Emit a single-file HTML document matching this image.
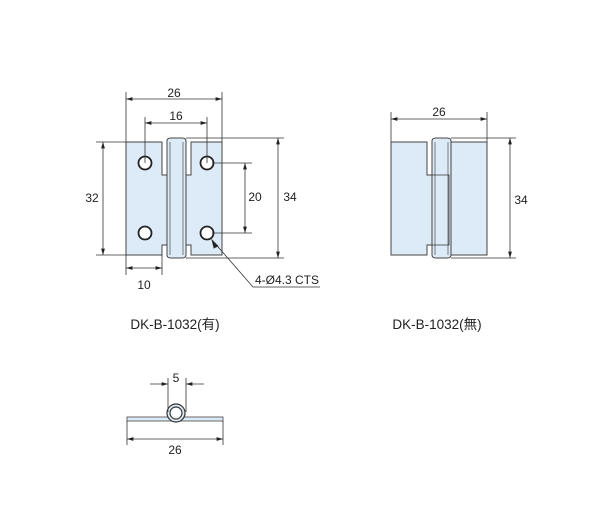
<!DOCTYPE html>
<html><head><meta charset="utf-8"><style>
body{margin:0;background:#fff}
svg{display:block}
text{font-family:"Liberation Sans","Noto Sans CJK JP",sans-serif;fill:#222}
</style></head><body>
<svg width="600" height="517" viewBox="0 0 600 517">
<defs>
<marker id="e" viewBox="0 0 10 6" refX="10" refY="3" markerWidth="8" markerHeight="5" orient="auto"><path d="M0,0L10,3L0,6z" fill="#222"/></marker>
<marker id="s" viewBox="0 0 10 6" refX="0" refY="3" markerWidth="8" markerHeight="5" orient="auto"><path d="M10,0L0,3L10,6z" fill="#222"/></marker>
</defs>
<g stroke="#333" stroke-width="0.8" fill="none">
<!-- left hinge -->
<path d="M126,142H162V175H167V245H162V255H126Z" fill="#dcebf7" stroke="#444" stroke-width="1"/>
<path d="M191,142H222V255H191V245H186V175H191Z" fill="#dcebf7" stroke="#444" stroke-width="1"/>
<path d="M167,175H186V245H167Z" fill="#dcebf7" stroke="none"/>
<path d="M167,141Q167,138 171,138H182Q186,138 186,141V255Q186,258 182,258H171Q167,258 167,255Z" fill="#dcebf7" stroke="#444" stroke-width="1"/>
<path d="M170,142V255M183,142V255" stroke-width="0.6"/>
<g stroke="#222" stroke-width="1.8" fill="#fff">
<circle cx="145" cy="163" r="6.5"/><circle cx="145" cy="233" r="6.5"/>
<circle cx="207" cy="163" r="6.5"/><circle cx="207" cy="233" r="6.5"/>
</g>
<!-- dims left -->
<path d="M126,142V92M222,142V92M145,163V117M207,163V117M126,255V275M162,255V275"/>
<g marker-start="url(#s)" marker-end="url(#e)">
<path d="M126,99H222"/><path d="M145,123H207"/><path d="M126,268H162"/>
<path d="M103,142V255"/><path d="M245,163V233"/><path d="M278,138V258"/>
<path d="M391,119H487"/><path d="M510,138V258"/>
<path d="M127,439H223"/>
</g>
<path d="M96,142H126M96,255H126M212,163H252M212,233H252M186,138H284M186,258H284"/>
<path d="M212,240L253,287H320"/>
<path d="M218,246L212,240L214,248z" fill="#222"/>
<!-- right hinge -->
<path d="M391,142H427V175H432V245H427V255H391Z" fill="#dcebf7" stroke="#444" stroke-width="1"/>
<path d="M451,142H487V255H451Z" fill="#dcebf7" stroke="#444" stroke-width="1"/>
<path d="M432,141Q432,138 436,138H447Q451,138 451,141V255Q451,258 447,258H436Q432,258 432,255Z" fill="#dcebf7" stroke="#444" stroke-width="1"/>
<path d="M432,175H449V245H432" stroke-width="0.8"/>
<path d="M435,142V255M448,142V255" stroke-width="0.6"/>
<path d="M391,142V112M487,142V112M451,138H516M451,258H516"/>
<!-- bottom view -->
<rect x="127" y="417" width="96" height="4" fill="#dcebf7" stroke="#444"/>
<circle cx="176" cy="413" r="9" fill="#dcebf7" stroke="#333" stroke-width="1.2"/>
<circle cx="176" cy="413" r="6" fill="#fff" stroke="#333" stroke-width="1.2"/>
<path d="M168,378V412M186,378V412M127,421V445M223,421V445"/>
<path d="M150,384H168" marker-end="url(#e)"/>
<path d="M204,384H186" marker-end="url(#e)"/>
</g>
<g font-size="12" text-anchor="middle">
<text x="174" y="97">26</text>
<text x="176" y="120">16</text>
<text x="92" y="202">32</text>
<text x="255" y="201">20</text>
<text x="290" y="201">34</text>
<text x="144" y="289">10</text>
<text x="287" y="284">4-Ø4.3 CTS</text>
<text x="439" y="116">26</text>
<text x="521" y="204">34</text>
<text x="176" y="382">5</text>
<text x="175" y="454">26</text>
</g>
<g font-size="13.5" text-anchor="middle">
<text x="175" y="329">DK-B-1032(有)</text>
<text x="437" y="329">DK-B-1032(無)</text>
</g>
</svg>
</body></html>
